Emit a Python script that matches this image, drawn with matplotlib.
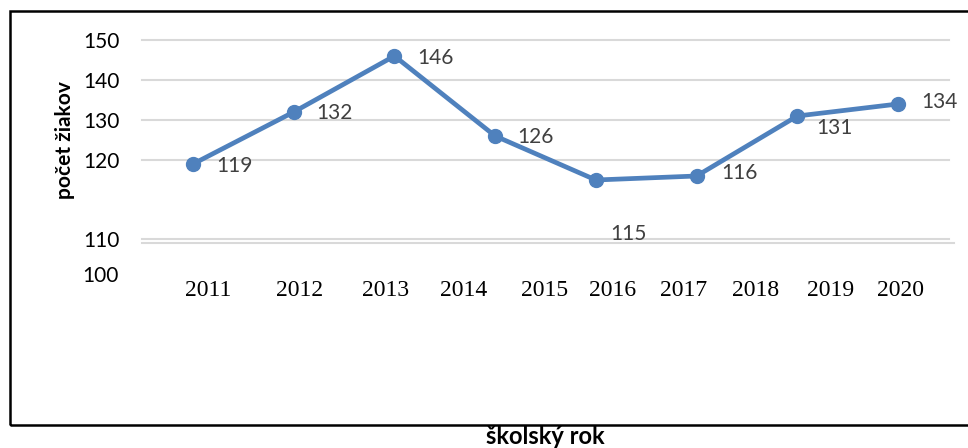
import matplotlib.pyplot as plt
from matplotlib.patches import Rectangle
from matplotlib.lines import Line2D

# data
values = [119, 132, 146, 126, 115, 116, 131, 134]
years = ["2011", "2012", "2013", "2014", "2015", "2016", "2017", "2018", "2019", "2020"]
ytick_vals = [150, 140, 130, 120, 100.25]
ytick_labels = ["150", "140", "130", "120", "110"]

# layout (where the year labels and value labels sit)
year_pos = [0.15, 1.06, 1.91, 2.69, 3.49, 4.17, 4.87, 5.59, 6.33, 7.02]
label_off = [(41, -2), (41, -1), (41, -2), (40, -1), (33, -54), (43, 3), (37, -12), (41, 2)]

W, H = 968, 448
fig = plt.figure(figsize=(W / 100, H / 100), dpi=100)

# outer frame (right edge runs off the picture)
fig.patches.append(Rectangle((10 / W, (H - 425) / H), 970 / W, 414 / H,
                             transform=fig.transFigure, fill=False,
                             edgecolor="black", linewidth=1.8))

ax = fig.add_axes([142 / W, (H - 243) / H, 807 / W, 203 / H])
ax.set_xlim(-0.506, 7.506)
ax.set_ylim(99.25, 150)
for s in ax.spines.values():
    s.set_visible(False)

grid_c = "#d9d9d9"
for v in ytick_vals:
    ax.axhline(v, color=grid_c, linewidth=1.5, zorder=1, clip_on=False)
ax.add_line(Line2D([0, 1.006], [0, 0], transform=ax.transAxes, color=grid_c,
                   linewidth=1.5, clip_on=False, zorder=1))

x = list(range(len(values)))
ax.plot(x, values, color="#4f81bd", linewidth=3.4, marker="o", markersize=10,
        zorder=3, clip_on=False)

for xi, v, (dx, dy) in zip(x, values, label_off):
    ax.annotate(str(v), (xi, v), xytext=(dx * 0.72, dy * 0.72), textcoords="offset points",
                ha="center", va="center", fontsize=15, color="#404040", family="Lato")

ax.set_yticks(ytick_vals)
ax.set_yticklabels(ytick_labels, family="Lato", fontsize=15, color="black")
ax.tick_params(axis="y", length=0, pad=16)
ax.text(-0.506 - 23 / 100.71, 91, "100", ha="right", va="center",
        fontsize=15, family="Lato", clip_on=False)

ax.set_xticks(year_pos)
ax.set_xticklabels(years, family="Liberation Serif", fontsize=17)
ax.tick_params(axis="x", length=0, pad=27)

fig.text(65 / W, 1 - 140 / H, "počet žiakov", rotation=90, ha="center", va="center",
         fontsize=15, fontweight="bold", family="Lato")
fig.text(545 / W, 1 - 436 / H, "školský rok", ha="center", va="center",
         fontsize=17, fontweight="bold", family="Lato")

fig.savefig("out.png", dpi=100)
